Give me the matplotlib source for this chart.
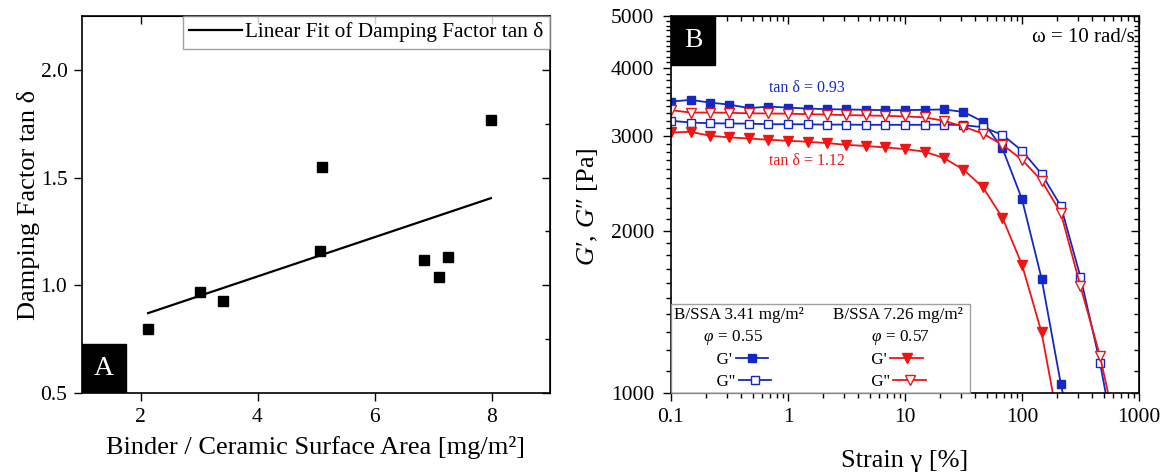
import numpy as np
import matplotlib
matplotlib.use("Agg")
import matplotlib.pyplot as plt
from matplotlib.lines import Line2D
from matplotlib.patches import Rectangle
from matplotlib.ticker import FixedLocator, LogLocator, FuncFormatter, NullFormatter

plt.rcParams['font.family'] = ['Liberation Serif', 'DejaVu Serif']
plt.rcParams['mathtext.fontset'] = 'custom'
plt.rcParams['mathtext.rm'] = 'Liberation Serif'
plt.rcParams['mathtext.it'] = 'Liberation Serif:italic'

# panel A: damping factor vs binder / surface area
bssa = [2.13, 3.02, 3.41, 5.07, 5.10, 6.85, 7.10, 7.26, 7.99]
tan_delta = [0.796, 0.969, 0.927, 1.160, 1.548, 1.118, 1.040, 1.133, 1.765]

# panel B: amplitude sweeps
strain = [0.1, 0.147, 0.215, 0.316, 0.464, 0.681, 1, 1.47, 2.15, 3.16, 4.64, 6.81,
          10, 14.7, 21.5, 31.6, 46.4, 68.1, 100, 147, 215, 316, 464, 681]
g1_341 = [3470, 3495, 3455, 3425, 3375, 3396, 3382, 3368, 3359, 3355, 3350, 3345,
          3345, 3350, 3355, 3320, 3185, 2841, 2287, 1630, 1038, 700]
g2_341 = [3197, 3173, 3163, 3160, 3158, 3150, 3150, 3148, 3145, 3145, 3142, 3142,
          3142, 3142, 3145, 3138, 3110, 3010, 2813, 2548, 2220, 1641, 1138, 730]
g1_726 = [3041, 3050, 2999, 2978, 2964, 2948, 2935, 2923, 2906, 2885, 2870, 2853,
          2833, 2801, 2727, 2595, 2406, 2112, 1729, 1295, 830]
g2_726 = [3345, 3311, 3311, 3308, 3300, 3298, 3295, 3288, 3283, 3275, 3270, 3265,
          3257, 3243, 3197, 3118, 3025, 2886, 2707, 2476, 2155, 1577, 1171, 800]

blue = '#1428c8'
red = '#f01414'

W, H = 1169, 474
fig = plt.figure(figsize=(W / 100, H / 100), dpi=100)
ax1 = fig.add_axes([82 / W, 1 - 393 / H, 468 / W, 377 / H])
ax2 = fig.add_axes([671 / W, 1 - 393 / H, 468 / W, 377 / H])


def mirror(ax, xloc, yloc, xminor=None, yminor=None):
    ax.tick_params(which='both', direction='out', width=1, labelsize=15.5, color='black')
    ax.tick_params(which='major', length=6)
    ax.tick_params(which='minor', length=3.5)
    top = ax.secondary_xaxis('top')
    right = ax.secondary_yaxis('right')
    top.xaxis.set_major_locator(xloc())
    right.yaxis.set_major_locator(yloc())
    if xminor:
        top.xaxis.set_minor_locator(xminor())
    if yminor:
        right.yaxis.set_minor_locator(yminor())
    for s in (top, right):
        s.tick_params(which='both', direction='in', width=1, labeltop=False, labelright=False)
        s.tick_params(which='major', length=6)
        s.tick_params(which='minor', length=3.5)
        s.xaxis.set_minor_formatter(NullFormatter())
        s.yaxis.set_minor_formatter(NullFormatter())
    for sp in ax.spines.values():
        sp.set_linewidth(1.2)


# ---- panel A ----
ax1.plot(bssa, tan_delta, 's', color='black', markersize=7.2, linestyle='none')
k, b = np.polyfit(bssa, tan_delta, 1)
xf = np.array([min(bssa), max(bssa)])
ax1.plot(xf, k * xf + b, color='black', lw=1.6, label='Linear Fit of Damping Factor tan δ')
ax1.set_xlim(1, 9)
ax1.set_ylim(0.5, 2.25)
ax1.set_xticks([2, 4, 6, 8])
ax1.set_yticks([0.5, 1.0, 1.5, 2.0])
ax1.yaxis.set_major_formatter(FuncFormatter(lambda v, p: f'{v:.1f}'))
mirror(ax1, lambda: FixedLocator([2, 4, 6, 8]), lambda: FixedLocator([0.5, 1.0, 1.5, 2.0]),
       yminor=lambda: FixedLocator([0.75, 1.25, 1.75]))
ax1.tick_params(axis='y', pad=4.5)
ax1.tick_params(axis='x', pad=5)
ax1.set_xlabel('Binder / Ceramic Surface Area [mg/m²]', fontsize=19)
ax1.set_ylabel('Damping Factor tan δ', fontsize=19)
ax1.xaxis.set_label_coords(0.5, -0.115)
ax1.yaxis.set_label_coords(-0.09, 0.5)
leg1 = ax1.legend(loc='upper right', fontsize=15.3, frameon=True, fancybox=False,
                  borderaxespad=0, borderpad=0.3, handlelength=2.5, handletextpad=0.15)
leg1.get_frame().set_edgecolor('#888888')
leg1.get_frame().set_linewidth(1.0)
ax1.add_patch(Rectangle((0, 0), 0.094, 0.13, transform=ax1.transAxes, color='black', zorder=5))
ax1.text(0.047, 0.065, 'A', transform=ax1.transAxes, color='white', fontsize=20,
         ha='center', va='center', zorder=6)

# ---- panel B ----
ms = 6.2
l1, = ax2.plot(strain[:len(g1_341)], g1_341, '-s', color=blue, mfc=blue, ms=ms, lw=1.3)
l2, = ax2.plot(strain[:len(g2_341)], g2_341, '-s', color=blue, mfc='white', ms=ms, lw=1.3)
l3, = ax2.plot(strain[:len(g1_726)], g1_726, '-v', color=red, mfc=red, ms=ms + 1, lw=1.3)
l4, = ax2.plot(strain[:len(g2_726)], g2_726, '-v', color=red, mfc='white', ms=ms + 1, lw=1.3)
ax2.set_xscale('log')
ax2.set_yscale('log')
ax2.set_xlim(0.1, 1000)
ax2.set_ylim(1000, 5000)
ax2.xaxis.set_major_locator(LogLocator(base=10))
ax2.xaxis.set_minor_locator(LogLocator(base=10, subs=np.arange(2, 10)))
ax2.xaxis.set_major_formatter(FuncFormatter(lambda v, p: f'{v:g}'))
ax2.xaxis.set_minor_formatter(NullFormatter())
ax2.yaxis.set_major_locator(FixedLocator([1000, 2000, 3000, 4000, 5000]))
ax2.yaxis.set_minor_locator(FixedLocator([v for v in range(1100, 5000, 100) if v % 1000]))
ax2.yaxis.set_major_formatter(FuncFormatter(lambda v, p: f'{v:.0f}'))
ax2.yaxis.set_minor_formatter(NullFormatter())
mirror(ax2, lambda: LogLocator(base=10),
       lambda: FixedLocator([1000, 2000, 3000, 4000, 5000]),
       xminor=lambda: LogLocator(base=10, subs=np.arange(2, 10)),
       yminor=lambda: FixedLocator([v for v in range(1100, 5000, 100) if v % 1000]))
ax2.tick_params(axis='y', pad=6)
ax2.tick_params(axis='x', pad=5)
ax2.set_xlabel('Strain γ [%]', fontsize=19)
ax2.set_ylabel('$G$\u2032, $G$\u2033 [Pa]', fontsize=19)
ax2.xaxis.set_label_coords(0.5, -0.15)
ax2.yaxis.set_label_coords(-0.152, 0.493)

ax2.text(0.991, 0.944, 'ω = 10 rad/s', transform=ax2.transAxes, fontsize=15,
         ha='right', va='center')
ax2.text(1.45, 3680, 'tan δ = 0.93', color=blue, fontsize=11.5, ha='center', va='center')
ax2.text(1.45, 2696, 'tan δ = 1.12', color=red, fontsize=11.5, ha='center', va='center')
ax2.add_patch(Rectangle((0, 0.87), 0.094, 0.13, transform=ax2.transAxes, color='black', zorder=5))
ax2.text(0.047, 0.935, 'B', transform=ax2.transAxes, color='white', fontsize=20,
         ha='center', va='center', zorder=6)

blank = Line2D([], [], linestyle='none', marker='none')
handles = [blank, blank, l1, l2, blank, blank, l3, l4]
labels = ['B/SSA 3.41 mg/m²', '       $\\varphi$ = 0.55', "          G'", "          G''",
          'B/SSA 7.26 mg/m²', '         $\\varphi$ = 0.57', "         G'", "         G''"]
leg2 = ax2.legend(handles, labels, ncol=2, loc='lower left', fontsize=12.3, markerfirst=False,
                  frameon=True, fancybox=False, borderaxespad=0, borderpad=0.2,
                  handlelength=1.9, handletextpad=0.2, columnspacing=1.5, labelspacing=0.3)
leg2.get_frame().set_edgecolor('#888888')
leg2.get_frame().set_linewidth(1.0)
# left-align the rows and let the text-only rows take no handle width
for col in leg2._legend_handle_box.get_children():
    col.align = 'left'
    rows = col.get_children()
    for row in rows[:2]:
        row.get_children()[1].width = 0

fig.savefig('out.png', dpi=100)
